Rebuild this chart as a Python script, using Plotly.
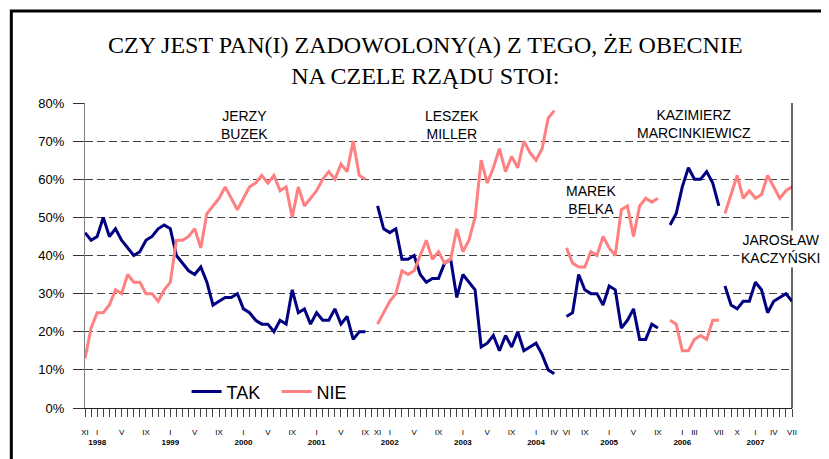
import plotly.graph_objects as go

# monthly polls, XI 1997 .. VII 2007
FIRST_MONTH = '1997-11'
LAST_MONTH = '2007-07'

ROMAN = ['I', 'II', 'III', 'IV', 'V', 'VI', 'VII', 'VIII', 'IX', 'X', 'XI', 'XII']

# months that carry a label under the axis
labeled_months = [
    '1997-11', '1998-01', '1998-05', '1998-09',
    '1999-01', '1999-05', '1999-09',
    '2000-01', '2000-05', '2000-09',
    '2001-01', '2001-05', '2001-09', '2001-11',
    '2002-01', '2002-05', '2002-09',
    '2003-01', '2003-05', '2003-09',
    '2004-01', '2004-04', '2004-06', '2004-09',
    '2005-01', '2005-05', '2005-09',
    '2006-01', '2006-03', '2006-07', '2006-10',
    '2007-01', '2007-04', '2007-07',
]

# one entry per government: label, first month, TAK values, NIE values
governments = ['JERZY<br>BUZEK', 'LESZEK<br>MILLER', 'MAREK<br>BELKA',
               'KAZIMIERZ<br>MARCINKIEWICZ', 'JAROSŁAW<br>KACZYŃSKI']
gov_start = ['1997-11', '2001-11', '2004-06', '2005-11', '2006-08']

buzek_tak = [46, 44, 45, 50, 45, 47, 44, 42, 40, 41, 44, 45, 47, 48, 47, 40,
             38, 36, 35, 37, 33, 27, 28, 29, 29, 30, 26, 25, 23, 22, 22, 20,
             23, 22, 31, 25, 26, 22, 25, 23, 23, 26, 22, 24, 18, 20, 20]
buzek_nie = [13, 21, 25, 25, 27, 31, 30, 35, 33, 33, 30, 30, 28, 31, 33, 44,
             44, 45, 47, 42, 51, 53, 55, 58, 55, 52, 55, 58, 59, 61, 59, 61,
             57, 58, 50, 58, 53, 55, 57, 60, 62, 60, 64, 62, 70, 61, 60]
miller_tak = [53, 47, 46, 47, 39, 39, 40, 35, 33, 34, 34, 38, 39, 29, 35,
              33, 31, 16, 17, 19, 15, 19, 16, 20, 15, 16, 17, 14, 10, 9]
miller_nie = [22, 25, 28, 30, 36, 35, 36, 40, 44, 39, 41, 38, 39, 47, 41,
              44, 50, 65, 59, 63, 68, 62, 66, 63, 70, 67, 65, 68, 76, 78]
belka_tak = [24, 25, 35, 31, 30, 30, 27, 32, 31, 21, 23, 26, 18, 18, 22, 21]
belka_nie = [42, 38, 37, 37, 41, 40, 45, 42, 40, 52, 53, 45, 53, 55, 54, 55]
marc_tak = [48, 51, 58, 63, 60, 60, 62, 59, 53]
marc_nie = [23, 22, 15, 15, 18, 19, 18, 23, 23]
kacz_tak = [32, 27, 26, 28, 28, 33, 31, 25, 28, 29, 30, 28]
kacz_nie = [51, 56, 61, 55, 57, 55, 56, 61, 58, 55, 57, 58]

tak_series = [buzek_tak, miller_tak, belka_tak, marc_tak, kacz_tak]
nie_series = [buzek_nie, miller_nie, belka_nie, marc_nie, kacz_nie]

TAK_COLOR = '#000080'
NIE_COLOR = '#FF8080'
SANS = 'Arial, Liberation Sans, sans-serif'
SERIF = 'Times New Roman, Liberation Serif, serif'

months = [f'{y}-{m:02d}' for y in range(1997, 2008) for m in range(1, 13)]
months = months[months.index(FIRST_MONTH):months.index(LAST_MONTH) + 1]


def tick_label(month):
    if month not in labeled_months:
        return ''
    year, m = month.split('-')
    text = ROMAN[int(m) - 1]
    if m == '01':
        text += f'<br><b>{year}</b>'
    return text


fig = go.Figure()

for k, start in enumerate(gov_start):
    i0 = months.index(start)
    for name, series, color in (('TAK', tak_series, TAK_COLOR),
                                ('NIE', nie_series, NIE_COLOR)):
        vals = series[k]
        fig.add_trace(go.Scatter(
            x=months[i0:i0 + len(vals)],
            y=vals,
            mode='lines',
            name=name,
            legendgroup=name,
            showlegend=(k == 0),
            line=dict(color=color, width=3),
        ))

# government labels (paper coords)
label_pos = [(0.2263, 0.928), (0.519, 0.928), (0.715, 0.682),
             (0.862, 0.931), (0.9837, 0.5206)]
for text, (ax, ay) in zip(governments, label_pos):
    fig.add_annotation(
        x=ax, y=ay, xref='paper', yref='paper',
        text=text, showarrow=False, align='center',
        xanchor='center', yanchor='middle',
        font=dict(family=SANS, size=14, color='#000'),
        bgcolor='white' if 'KACZ' in text else 'rgba(0,0,0,0)',
    )

# outer frame and right border of the plot area
fig.add_shape(type='rect', xref='paper', yref='paper',
              x0=-0.1042, x1=1.2, y0=-0.3, y1=1.3016,
              line=dict(color='black', width=3), layer='below')
fig.add_shape(type='line', xref='paper', yref='paper',
              x0=1, x1=1, y0=0, y1=1,
              line=dict(color='black', width=1.2))

# the page body has an 8px margin, so the figure is 8px smaller
fig.update_layout(
    width=821,
    height=451,
    margin=dict(l=77, r=37, t=95, b=51),
    paper_bgcolor='white',
    plot_bgcolor='white',
    font=dict(family=SANS, color='#000'),
    title=dict(
        text='CZY JEST PAN(I) ZADOWOLONY(A) Z TEGO, ŻE OBECNIE<br>NA CZELE RZĄDU STOI:',
        font=dict(family=SERIF, size=24, color='#000'),
        x=0.5083, xref='container', xanchor='center',
        y=0.9013, yref='container', yanchor='middle',
    ),
    legend=dict(
        orientation='h',
        x=0.1437, y=0.053, xanchor='left', yanchor='middle',
        bgcolor='rgba(0,0,0,0)',
        font=dict(family=SANS, size=18, color='#000'),
        itemwidth=30,
        entrywidth=45,
    ),
    showlegend=True,
)

fig.update_xaxes(
    type='category',
    categoryorder='array',
    categoryarray=months,
    range=[0, len(months) - 1],
    tickmode='array',
    tickvals=months,
    ticktext=[tick_label(m) for m in months],
    tickangle=0,
    ticks='outside',
    ticklen=8,
    tickwidth=1,
    tickcolor='#444',
    tickfont=dict(family=SANS, size=8, color='#000'),
    ticklabelstandoff=8,
    showline=True,
    linecolor='#222',
    linewidth=1,
    showgrid=False,
    zeroline=False,
)

fig.update_yaxes(
    range=[0, 80],
    tickmode='linear',
    tick0=0,
    dtick=10,
    ticksuffix='%',
    ticks='outside',
    ticklen=11,
    tickwidth=1,
    tickcolor='#333',
    tickfont=dict(family=SANS, size=13, color='#000'),
    ticklabelstandoff=6,
    showline=True,
    linecolor='#808080',
    linewidth=1,
    showgrid=True,
    gridcolor='#444',
    gridwidth=1,
    griddash='8px,4px',
    zeroline=False,
)

fig.write_html('out.html')
